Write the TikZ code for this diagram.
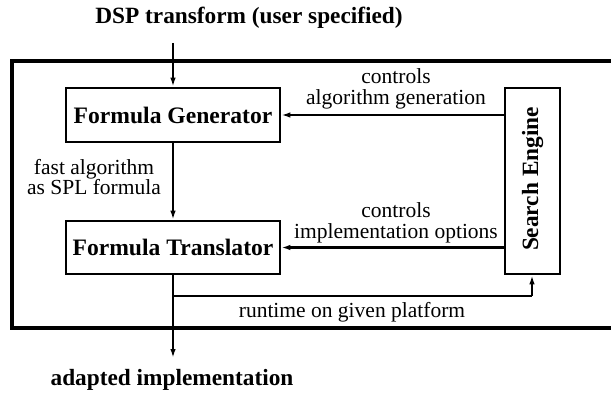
\documentclass[tikz,border=0pt]{standalone}
\usepackage{fontspec}
\setmainfont{Liberation Serif}
\usetikzlibrary{arrows.meta}
\begin{document}
\begin{tikzpicture}[x=1pt,y=1pt,
  box/.style={draw,line width=2.6pt,inner sep=0pt,font=\fontsize{23.6}{26}\selectfont\bfseries},
  lbl/.style={font=\fontsize{21.5}{20.5}\selectfont,align=center,inner sep=0pt},
  btxt/.style={font=\fontsize{23.3}{26}\selectfont\bfseries,inner sep=0pt},
  conn/.style={line width=2.2pt,-{Latex[length=9pt,width=5.5pt]}},
  plain/.style={line width=2.2pt}]
\useasboundingbox (0,0) rectangle (611,392);
\draw[line width=3.5pt] (12,331) rectangle (618,64);
\node[btxt] (title) at (249,374) {DSP transform (user specified)};
\node[box,minimum width=214pt,minimum height=54pt] (fg) at (173,277) {Formula Generator};
\node[box,minimum width=214pt,minimum height=53pt] (ft) at (173,144.5) {Formula Translator};
\node[box,minimum width=55pt,minimum height=186pt] (se) at (532.5,211) {};
\node[btxt,rotate=90] (setxt) at (532.5,213) {Search Engine};
\coordinate (tin) at (173,349);
\coordinate (tout) at (173,34);
\coordinate (br) at (173,96);
\coordinate (brr) at (532,96);
\node[btxt] (out) at (172,12) {adapted implementation};
\draw[conn] (tin) -- (fg.north);
\draw[conn] (fg.south) -- (ft.north);
\draw[conn] (ft.south) -- (tout);
\draw[conn] (se.west |- fg.east) -- (fg.east);
\draw[conn] (se.west |- ft.east) -- (ft.east);
\draw[plain] (br) -- (brr);
\draw[conn] (brr) -- (se.south -| brr);
\node[lbl] (l1) at (396,303) {controls\\algorithm generation};
\node[lbl] (l2) at (396,169) {controls\\implementation options};
\node[lbl] (l3) at (94,215) {fast algorithm\\as SPL formula};
\node[lbl] (l4) at (352,80) {runtime on given platform};
\end{tikzpicture}
\end{document}
